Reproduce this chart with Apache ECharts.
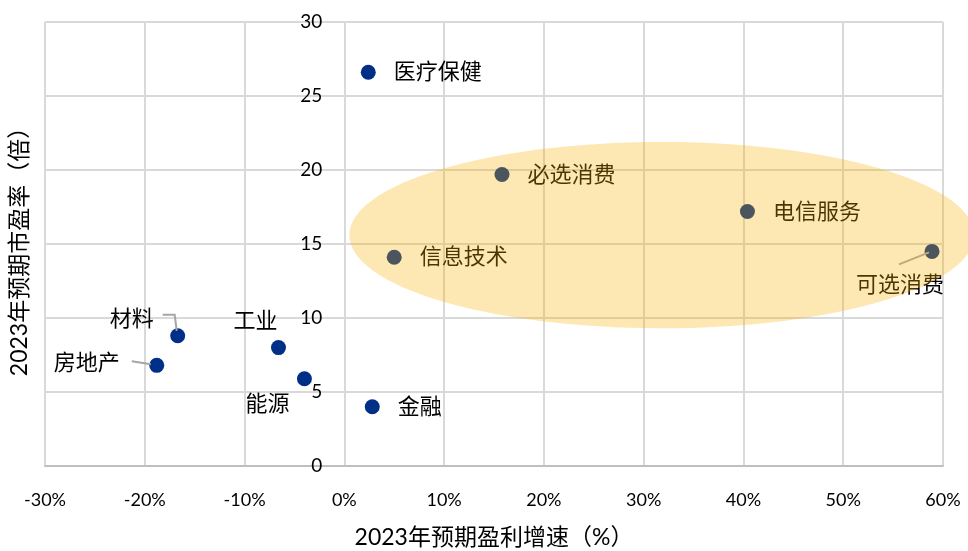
<!DOCTYPE html>
<html><head><meta charset="utf-8">
<script src="https://cdn.jsdelivr.net/npm/echarts@6/dist/echarts.min.js"></script>
<style>html,body{margin:0;padding:0;background:#fff}#c{width:968px;height:551px}</style>
</head><body><div id="c"></div>
<script>
const names = ['医疗保健','必选消费','电信服务','信息技术','可选消费','材料','工业','房地产','能源','金融'];
const growth = [2.4, 15.8, 40.4, 5.0, 58.9, -16.7, -6.6, -18.8, -4.0, 2.8];
const pe = [26.6, 19.7, 17.2, 14.1, 14.5, 8.8, 8.0, 6.8, 5.9, 4.0];
const xTicks = [-30, -20, -10, 0, 10, 20, 30, 40, 50, 60];
const yTicks = [0, 5, 10, 15, 20, 25, 30];
const xTitle = '2023年预期盈利增速（%）';
const yTitle = '2023年预期市盈率（倍）';
// highlight ellipse in data units
const ellCenter = [31.8, 15.6];
const ellRadius = [31.3, 6.3];

const FONT = "Lato, 'Noto Sans CJK SC', sans-serif";
// label placements (pixel offsets from the point)
const labelCfg = {
  '医疗保健': {position: 'right', distance: 18},
  '必选消费': {position: 'right', distance: 18},
  '电信服务': {position: 'right', distance: 18},
  '信息技术': {position: 'right', distance: 18},
  '金融': {position: 'right', distance: 18},
  '工业': {position: 'inside', offset: [-23, -27]},
  '能源': {position: 'inside', offset: [-37, 25]},
  '材料': {position: 'inside', offset: [-46, -17], line: [[-15, -21], [-3, -21], [-1, -5]]},
  '房地产': {position: 'inside', offset: [-70, -2], line: [[-25, -4], [-6, -1]]},
  '可选消费': {position: 'inside', offset: [-32, 34], line: [[-3, 1], [-33, 13]]}
};

const data = names.map((n, i) => {
  const c = labelCfg[n];
  const lab = {show: true, formatter: n, position: c.position};
  if (c.distance) lab.distance = c.distance;
  if (c.offset) lab.offset = c.offset;
  return {name: n, value: [growth[i], pe[i]], label: lab};
});

const chart = echarts.init(document.getElementById('c'), null, {renderer: 'canvas'});
chart.setOption({
  animation: false,
  backgroundColor: '#fff',
  grid: {left: 45, right: 25, top: 22, bottom: 85, outerBoundsMode: 'none', containLabel: false},
  xAxis: {
    type: 'value', min: xTicks[0], max: xTicks[xTicks.length - 1], interval: 10,
    name: xTitle, nameLocation: 'middle', nameGap: 60,
    nameTextStyle: {fontSize: 23, color: '#000', fontFamily: FONT},
    axisLine: {show: true, onZero: false, lineStyle: {color: '#bfbfbf', width: 2}},
    axisTick: {show: false},
    axisLabel: {formatter: '{value}%', fontSize: 18, color: '#000', fontFamily: FONT, margin: 25},
    splitLine: {show: true, lineStyle: {color: '#d9d9d9', width: 2}}
  },
  yAxis: {
    type: 'value', min: yTicks[0], max: yTicks[yTicks.length - 1], interval: 5,
    axisLine: {show: true, onZero: false, lineStyle: {color: '#d9d9d9', width: 2}},
    axisTick: {show: false},
    axisLabel: {fontSize: 19, color: '#000', fontFamily: FONT, margin: 22},
    splitLine: {show: true, lineStyle: {color: '#d9d9d9', width: 2}}
  },
  series: [{
    type: 'scatter', symbolSize: 15,
    itemStyle: {color: '#002f87', opacity: 1},
    label: {show: true, fontSize: 22, color: '#000', fontFamily: FONT},
    data: data, z: 3
  }]
});

// place the y axis where x = 0 (as in the reference)
const px0 = chart.convertToPixel({xAxisIndex: 0}, 0);
const pxMin = chart.convertToPixel({xAxisIndex: 0}, xTicks[0]);
chart.setOption({yAxis: {offset: -(px0 - pxMin)}});

function drawOverlays() {
  const g = [];
  // y axis title
  g.push({type: 'text', x: 20, y: 246, rotation: Math.PI / 2, silent: true, z: 50,
    style: {text: yTitle, fontSize: 23, fill: '#000', fontFamily: FONT, align: 'center', verticalAlign: 'middle'}});
  // leader lines anchored to data points
  names.forEach((n, i) => {
    const c = labelCfg[n];
    if (!c.line) return;
    const p = chart.convertToPixel({gridIndex: 0}, [growth[i], pe[i]]);
    g.push({type: 'polyline', silent: true, z: 10,
      shape: {points: c.line.map(d => [p[0] + d[0], p[1] + d[1]])},
      style: {stroke: '#a6a6a6', lineWidth: 2, fill: null}});
  });
  const c = chart.convertToPixel({gridIndex: 0}, ellCenter);
  const e = chart.convertToPixel({gridIndex: 0}, [ellCenter[0] + ellRadius[0], ellCenter[1] + ellRadius[1]]);
  g.push({type: 'ellipse', z: 100, silent: true,
    shape: {cx: c[0], cy: c[1], rx: Math.abs(e[0] - c[0]), ry: Math.abs(c[1] - e[1])},
    style: {fill: 'rgba(247,176,0,0.3)'}});
  chart.setOption({graphic: g});
}
drawOverlays();
</script></body></html>
